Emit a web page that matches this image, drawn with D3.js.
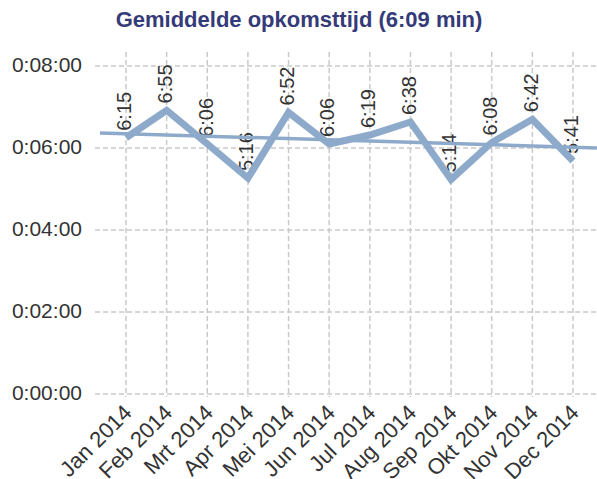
<!DOCTYPE html>
<html>
<head>
<meta charset="utf-8">
<script src="https://cdn.jsdelivr.net/npm/d3@7"></script>
<style>
  body { margin: 0; background: #fff; }
  svg text { font-family: "Liberation Sans", Arial, sans-serif; }
</style>
</head>
<body>
<svg id="chart" width="597" height="479"></svg>
<script>
// ── Data ──
const months  = ["Jan 2014", "Feb 2014", "Mrt 2014", "Apr 2014", "Mei 2014", "Jun 2014",
                 "Jul 2014", "Aug 2014", "Sep 2014", "Okt 2014", "Nov 2014", "Dec 2014"];
const seconds = [375, 415, 366, 316, 412, 366, 379, 398, 314, 368, 402, 341];
const yTicks  = [0, 120, 240, 360, 480];
const title   = "Gemiddelde opkomsttijd (6:09 min)";

const LINE_COLOR = "#8eaacb";
const GRID_COLOR = "#c9c9c9";

const svg = d3.select("#chart");

const fmtMS  = s => `${Math.floor(s / 60)}:${String(s % 60).padStart(2, "0")}`;
const fmtHMS = s => `0:${String(Math.floor(s / 60)).padStart(2, "0")}:${String(s % 60).padStart(2, "0")}`;

// ── Scales ──
const x = d3.scalePoint().domain(months).range([126, 573]);
const y = d3.scaleLinear().domain([0, 480]).range([394, 66]);
const idx = d3.scaleLinear().domain([0, months.length - 1]).range([126, 573]);

// ── Title ──
svg.append("text")
  .attr("x", 299).attr("y", 27)
  .attr("text-anchor", "middle")
  .attr("font-size", "22px").attr("font-weight", "bold")
  .attr("fill", "#353a78")
  .text(title);

// ── Grid ──
svg.append("g")
  .selectAll("line")
  .data(yTicks)
  .join("line")
  .attr("x1", 95).attr("x2", 597)
  .attr("y1", d => y(d)).attr("y2", d => y(d))
  .attr("stroke", GRID_COLOR).attr("stroke-width", 1.5)
  .attr("stroke-dasharray", "5,3");

svg.append("g")
  .selectAll("line")
  .data(months)
  .join("line")
  .attr("x1", d => x(d)).attr("x2", d => x(d))
  .attr("y1", 52).attr("y2", 397)
  .attr("stroke", GRID_COLOR).attr("stroke-width", 1.5)
  .attr("stroke-dasharray", "5,3");

// ── Y axis labels ──
svg.append("g")
  .selectAll("text")
  .data(yTicks)
  .join("text")
  .attr("x", 82).attr("y", d => y(d))
  .attr("text-anchor", "end")
  .attr("dominant-baseline", "middle")
  .attr("font-size", "21px").attr("fill", "#333")
  .text(fmtHMS);

// ── X axis labels ──
svg.append("g")
  .selectAll("text")
  .data(months)
  .join("text")
  .attr("transform", d => `translate(${x(d) + 3},${410}) rotate(-45)`)
  .attr("text-anchor", "end")
  .attr("dominant-baseline", "middle")
  .attr("font-size", "22px").attr("fill", "#333")
  .text(d => d);

// ── Value labels (drawn under the lines) ──
svg.append("g")
  .selectAll("text")
  .data(seconds)
  .join("text")
  .attr("transform", (d, i) => `translate(${x(months[i])},${y(d) - 7}) rotate(-90)`)
  .attr("text-anchor", "start")
  .attr("dominant-baseline", "middle")
  .attr("font-size", "20px").attr("fill", "#333")
  .text(fmtMS);

// ── Trend line (least squares fit over the months) ──
const n = seconds.length;
const mx = d3.mean(d3.range(n));
const my = d3.mean(seconds);
const slope = d3.sum(seconds, (v, i) => (i - mx) * (v - my)) / d3.sum(d3.range(n), i => (i - mx) ** 2);
const trendAt = px => my + slope * (idx.invert(px) - mx);

svg.append("line")
  .attr("x1", 100).attr("x2", 597)
  .attr("y1", y(trendAt(100))).attr("y2", y(trendAt(597)))
  .attr("stroke", LINE_COLOR).attr("stroke-width", 3.5);

// ── Main line ──
const line = d3.line()
  .x((d, i) => x(months[i]))
  .y(d => y(d));

svg.append("path")
  .datum(seconds)
  .attr("d", line)
  .attr("fill", "none")
  .attr("stroke", LINE_COLOR)
  .attr("stroke-width", 7)
  .attr("stroke-linejoin", "miter");
</script>
</body>
</html>
